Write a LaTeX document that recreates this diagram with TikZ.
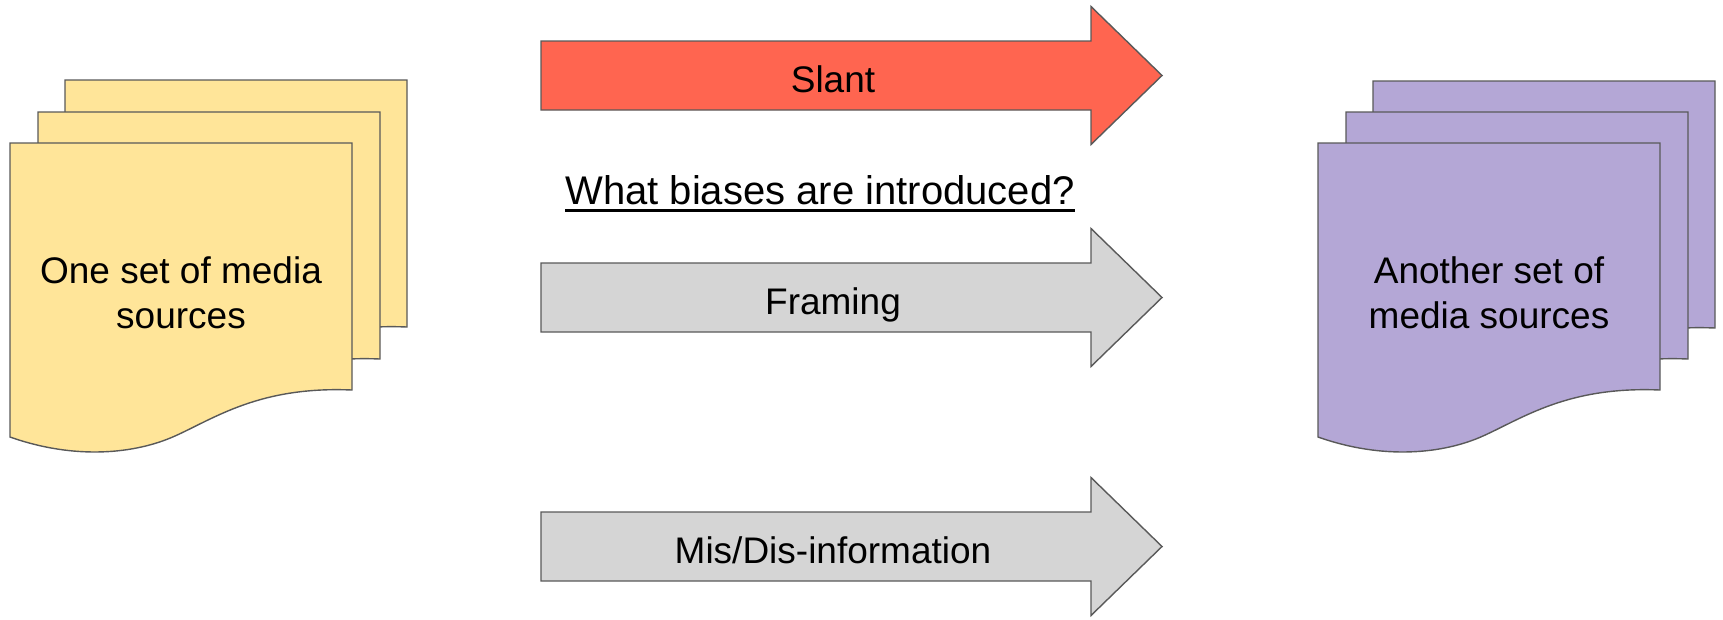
\documentclass[tikz,border=0pt]{standalone}
\usepackage{fontspec}
\setmainfont{Liberation Sans}
\definecolor{docyellow}{HTML}{FFE599}
\definecolor{docpurple}{HTML}{B4A7D6}
\definecolor{slantred}{HTML}{FF6550}
\definecolor{arrowgray}{HTML}{D5D5D5}
\definecolor{edgegray}{HTML}{595959}
\tikzset{
  outline/.style={draw=edgegray, line width=1.4pt, line join=miter},
  docpage/.pic={\path[outline,pic actions] (0,0) -- (342,0) -- (342,247) .. controls (250,243) and (205,275) .. (165,293) .. controls (125,311) and (65,317) .. (0,294) -- cycle;},
  fatarrow/.pic={\path[outline,pic actions] (0,-34.5) -- (550,-34.5) -- (550,-69) -- (621,0) -- (550,69) -- (550,34.5) -- (0,34.5) -- cycle;},
  lbl/.style={font=\fontsize{37}{45}\selectfont, inner sep=0pt, anchor=base, align=center},
}
\begin{document}
\begin{tikzpicture}[x=1pt,y=-1pt]
\useasboundingbox (0,0) rectangle (1723,619);
% left stack
\pic[fill=docyellow] at (65,80) {docpage};
\pic[fill=docyellow] at (38,112) {docpage};
\pic[fill=docyellow] at (10,143) {docpage};
\node[lbl] (src) at (181,328) {One set of media\\sources};
% right stack
\pic[fill=docpurple] at (1373,81) {docpage};
\pic[fill=docpurple] at (1346,112) {docpage};
\pic[fill=docpurple] at (1318,143) {docpage};
\node[lbl] (dst) at (1489,328) {Another set of\\media sources};
% arrows
\pic[fill=slantred] at (541,75.5) {fatarrow};
\node[lbl] (slant) at (833,92) {Slant};
\pic[fill=arrowgray] at (541,297.5) {fatarrow};
\node[lbl] (framing) at (833,314) {Framing};
\pic[fill=arrowgray] at (541,546.5) {fatarrow};
\node[lbl] (misdis) at (833,563) {Mis/Dis-information};
% question
\node[font=\fontsize{40}{48}\selectfont, inner sep=0pt, anchor=base] (q) at (820,204) {What biases are introduced?};
\draw[line width=3pt] ([yshift=-6pt]q.base west) -- ([yshift=-6pt]q.base east);
\end{tikzpicture}
\end{document}
